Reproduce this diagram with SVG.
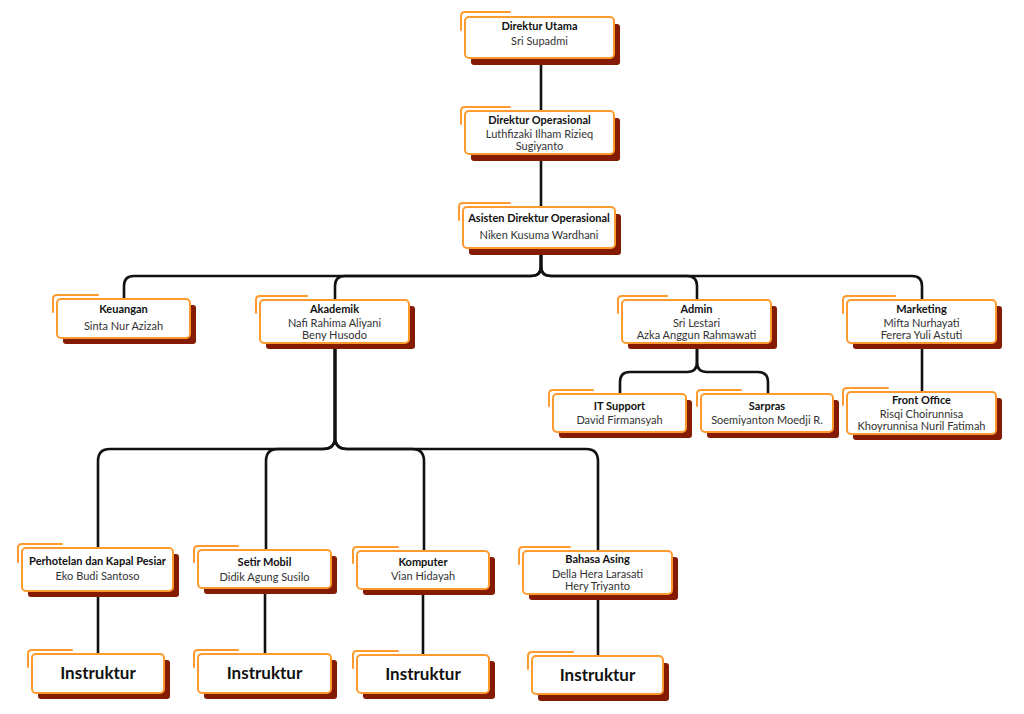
<svg xmlns="http://www.w3.org/2000/svg" width="1024" height="714" viewBox="0 0 1024 714">
<style>
.sh{fill:#861B04}
.bx{fill:#fff;stroke:#FF9A2E;stroke-width:2}
.tab{fill:none;stroke:#FF9A2E;stroke-width:2;stroke-linecap:round}
.t{font-family:Lato,"Open Sans",sans-serif;font-weight:700;font-size:11px;fill:#111;text-anchor:middle}
.n{font-family:Lato,"Open Sans",sans-serif;font-size:11px;fill:#333;text-anchor:middle}
.big{font-family:Lato,"Open Sans",sans-serif;font-weight:700;font-size:17px;fill:#111;text-anchor:middle}
.c{fill:none;stroke:#111;stroke-width:2.6;stroke-linejoin:round}
</style>
<rect width="1024" height="714" fill="#fff"/>
<g id="connectors">
<path class="c" d="M541,50 V120"/>
<path class="c" d="M541,140 V215"/>
<path class="c" d="M541,240 V266 Q541,276 531,276 H134 Q124,276 124,286 V305"/>
<path class="c" d="M541,240 V266 Q541,276 531,276 H345 Q335,276 335,286 V305"/>
<path class="c" d="M541,240 V266 Q541,276 551,276 H687 Q697,276 697,286 V305"/>
<path class="c" d="M541,240 V266 Q541,276 551,276 H912 Q922,276 922,286 V305"/>
<path class="c" d="M335,335 V437 Q335,449 323,449 H110 Q98,449 98,461 V555"/>
<path class="c" d="M335,335 V437 Q335,449 323,449 H278 Q266,449 266,461 V555"/>
<path class="c" d="M335,335 V437 Q335,449 347,449 H412 Q424,449 424,461 V555"/>
<path class="c" d="M335,335 V437 Q335,449 347,449 H586 Q598,449 598,461 V555"/>
<path class="c" d="M697,335 V362 Q697,372 687,372 H630 Q620,372 620,382 V400"/>
<path class="c" d="M697,335 V362 Q697,372 707,372 H758 Q768,372 768,382 V400"/>
<path class="c" d="M922,335 V400"/>
<path class="c" d="M98,585 V660"/>
<path class="c" d="M265,585 V660"/>
<path class="c" d="M423,585 V660"/>
<path class="c" d="M598,585 V660"/>
</g>
<g id="direktur-utama">
<rect class="sh" x="471" y="24" width="149" height="41" rx="3"/>
<path class="tab" d="M461,30 V16 Q461,12 465,12 H510"/>
<rect class="bx" x="465" y="17" width="149" height="41" rx="4"/>
<text class="t" x="539.5" y="29.5">Direktur Utama</text>
<text class="n" x="539.5" y="45">Sri Supadmi</text>
</g>
<g id="direktur-operasional">
<rect class="sh" x="471" y="118" width="149" height="43" rx="3"/>
<path class="tab" d="M461,124 V111 Q461,107 465,107 H510"/>
<rect class="bx" x="465" y="111" width="149" height="43" rx="4"/>
<text class="t" x="539.5" y="124">Direktur Operasional</text>
<text class="n" x="539.5" y="138">Luthfizaki Ilham Rizieq</text>
<text class="n" x="539.5" y="150">Sugiyanto</text>
</g>
<g id="asisten-direktur">
<rect class="sh" x="469" y="214" width="152" height="41" rx="3"/>
<path class="tab" d="M459,220 V207 Q459,203 463,203 H510"/>
<rect class="bx" x="463" y="207" width="152" height="41" rx="4"/>
<text class="t" x="539" y="222">Asisten Direktur Operasional</text>
<text class="n" x="539" y="239">Niken Kusuma Wardhani</text>
</g>
<g id="keuangan">
<rect class="sh" x="63" y="305" width="133" height="39" rx="3"/>
<path class="tab" d="M53,312 V299 Q53,295 57,295 H98"/>
<rect class="bx" x="57" y="299" width="133" height="39" rx="4"/>
<text class="t" x="123.5" y="313">Keuangan</text>
<text class="n" x="123.5" y="330">Sinta Nur Azizah</text>
</g>
<g id="akademik">
<rect class="sh" x="266" y="306" width="149" height="43" rx="3"/>
<path class="tab" d="M256,313 V300 Q256,296 260,296 H307"/>
<rect class="bx" x="260" y="300" width="149" height="43" rx="4"/>
<text class="t" x="334.5" y="313">Akademik</text>
<text class="n" x="334.5" y="327">Nafi Rahima Aliyani</text>
<text class="n" x="334.5" y="339">Beny Husodo</text>
</g>
<g id="admin">
<rect class="sh" x="628" y="306" width="149" height="43" rx="3"/>
<path class="tab" d="M618,313 V300 Q618,296 622,296 H667"/>
<rect class="bx" x="622" y="300" width="149" height="43" rx="4"/>
<text class="t" x="696.5" y="313">Admin</text>
<text class="n" x="696.5" y="327">Sri Lestari</text>
<text class="n" x="696.5" y="339">Azka Anggun Rahmawati</text>
</g>
<g id="marketing">
<rect class="sh" x="853" y="306" width="149" height="43" rx="3"/>
<path class="tab" d="M843,313 V300 Q843,296 847,296 H895"/>
<rect class="bx" x="847" y="300" width="149" height="43" rx="4"/>
<text class="t" x="921.5" y="313">Marketing</text>
<text class="n" x="921.5" y="327">Mifta Nurhayati</text>
<text class="n" x="921.5" y="339">Ferera Yuli Astuti</text>
</g>
<g id="it-support">
<rect class="sh" x="559" y="400" width="133" height="38" rx="3"/>
<path class="tab" d="M549,406 V394 Q549,390 553,390 H593"/>
<rect class="bx" x="553" y="394" width="133" height="38" rx="4"/>
<text class="t" x="619.5" y="410">IT Support</text>
<text class="n" x="619.5" y="424">David Firmansyah</text>
</g>
<g id="sarpras">
<rect class="sh" x="707" y="400" width="132" height="38" rx="3"/>
<path class="tab" d="M697,406 V394 Q697,390 701,390 H741"/>
<rect class="bx" x="701" y="394" width="132" height="38" rx="4"/>
<text class="t" x="767" y="410">Sarpras</text>
<text class="n" x="767" y="424">Soemiyanton Moedji R.</text>
</g>
<g id="front-office">
<rect class="sh" x="853" y="398" width="149" height="42" rx="3"/>
<path class="tab" d="M843,405 V392 Q843,388 847,388 H888"/>
<rect class="bx" x="847" y="392" width="149" height="42" rx="4"/>
<text class="t" x="921.5" y="404">Front Office</text>
<text class="n" x="921.5" y="418">Risqi Choirunnisa</text>
<text class="n" x="921.5" y="430">Khoyrunnisa Nuril Fatimah</text>
</g>
<g id="perhotelan">
<rect class="sh" x="28" y="554" width="151" height="43" rx="3"/>
<path class="tab" d="M18,562 V548 Q18,544 22,544 H62"/>
<rect class="bx" x="22" y="548" width="151" height="43" rx="4"/>
<text class="t" x="97.5" y="565">Perhotelan dan Kapal Pesiar</text>
<text class="n" x="97.5" y="580">Eko Budi Santoso</text>
</g>
<g id="setir-mobil">
<rect class="sh" x="204" y="556" width="133" height="38" rx="3"/>
<path class="tab" d="M194,562 V550 Q194,546 198,546 H238"/>
<rect class="bx" x="198" y="550" width="133" height="38" rx="4"/>
<text class="t" x="264.5" y="566">Setir Mobil</text>
<text class="n" x="264.5" y="581">Didik Agung Susilo</text>
</g>
<g id="komputer">
<rect class="sh" x="363" y="557" width="132" height="38" rx="3"/>
<path class="tab" d="M353,563 V551 Q353,547 357,547 H398"/>
<rect class="bx" x="357" y="551" width="132" height="38" rx="4"/>
<text class="t" x="423" y="566">Komputer</text>
<text class="n" x="423" y="580">Vian Hidayah</text>
</g>
<g id="bahasa-asing">
<rect class="sh" x="529" y="557" width="149" height="43" rx="3"/>
<path class="tab" d="M519,564 V551 Q519,547 523,547 H570"/>
<rect class="bx" x="523" y="551" width="149" height="43" rx="4"/>
<text class="t" x="597.5" y="563">Bahasa Asing</text>
<text class="n" x="597.5" y="578">Della Hera Larasati</text>
<text class="n" x="597.5" y="590">Hery Triyanto</text>
</g>
<g id="instruktur-1">
<rect class="sh" x="38" y="660" width="132" height="39" rx="3"/>
<path class="tab" d="M28,667 V654 Q28,650 32,650 H72"/>
<rect class="bx" x="32" y="654" width="132" height="39" rx="4"/>
<text class="big" x="98" y="679">Instruktur</text>
</g>
<g id="instruktur-2">
<rect class="sh" x="204" y="660" width="133" height="39" rx="3"/>
<path class="tab" d="M194,667 V654 Q194,650 198,650 H238"/>
<rect class="bx" x="198" y="654" width="133" height="39" rx="4"/>
<text class="big" x="264.5" y="679">Instruktur</text>
</g>
<g id="instruktur-3">
<rect class="sh" x="363" y="661" width="132" height="38" rx="3"/>
<path class="tab" d="M353,668 V655 Q353,651 357,651 H398"/>
<rect class="bx" x="357" y="655" width="132" height="38" rx="4"/>
<text class="big" x="423" y="680">Instruktur</text>
</g>
<g id="instruktur-4">
<rect class="sh" x="538" y="663" width="131" height="38" rx="3"/>
<path class="tab" d="M528,669 V656 Q528,652 532,652 H573"/>
<rect class="bx" x="532" y="656" width="131" height="38" rx="4"/>
<text class="big" x="597.5" y="681">Instruktur</text>
</g>
</svg>
